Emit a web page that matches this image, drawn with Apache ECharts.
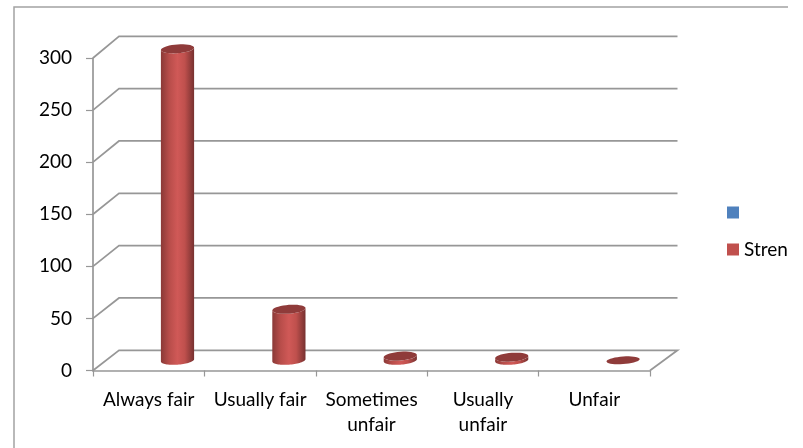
<!DOCTYPE html>
<html><head><meta charset="utf-8">
<style>html,body{margin:0;padding:0;background:#fff}#c{width:803px;height:448px}</style>
<script src="https://cdn.jsdelivr.net/npm/echarts@6/dist/echarts.min.js"></script>
</head><body><div id="c"></div>
<script>
const categories = ['Always fair','Usually fair','Sometimes\nunfair','Usually\nunfair','Unfair'];
const strengthValues = [299,49,4,3,0];
const yTicks = [0,50,100,150,200,250,300];
const legendNames = [' ','Stren'];

const FONT = 'Lato, "Open Sans", sans-serif';
const GRID = '#979797';
const DX = 27.5;                  // wall depth, horizontal
const BX = 28.8, BY = -10.2;      // cylinder offset from the front plane
const chart = echarts.init(document.getElementById('c'), null, {renderer:'canvas'});

function ell(cx, cy, rx, ry, from, to){
  const pts = [];
  for (let i = 0; i <= 36; i++){
    const t = from + (to - from) * i / 36;
    pts.push([cx + rx * Math.cos(t), cy + ry * Math.sin(t) - 0.07 * rx * Math.cos(t)]);
  }
  return pts;
}
function renderWall(params, api){
  const v = api.value(0);
  const a = api.coord([0, v]);
  const bw = api.size([1,0])[0];
  const x0 = a[0] - bw / 2, x1 = x0 + bw * categories.length, y = a[1];
  const dy = -20.2 - 1.5 * v / 300;
  const pts = [[x0, y],[x0 + DX - 1.5, y + dy],[x1 + DX, y + dy]];
  if (v === 0) pts.push([x1, y]);
  return {type:'polyline', shape:{points:pts}, style:{fill:null, stroke:GRID, lineWidth:1.7}, silent:true};
}
function renderBar(params, api){
  const i = api.value(0), v = api.value(1);
  const top = api.coord([i, v]), base = api.coord([i, 0]);
  const bw = api.size([1,0])[0];
  const cx = top[0] + BX, rx = bw * 0.149, ry = 4.4;
  const yb = base[1] + BY, yt = top[1] + BY;
  const fill = new echarts.graphic.LinearGradient(0,0,1,0,[
    {offset:0,color:'#8a3937'},{offset:0.25,color:'#b84d4a'},{offset:0.5,color:'#d05957'},
    {offset:0.72,color:'#bf504d'},{offset:1,color:'#773130'}]);
  const children = [];
  if (v > 0){
    const body = ell(cx, yb, rx, ry, 0, Math.PI).concat(ell(cx, yt, rx, ry, Math.PI, 0));
    children.push({type:'polygon', shape:{points:body}, style:{fill}});
  }
  children.push({type:'polygon', shape:{points:ell(cx, yt, rx, v > 0 ? ry : 3.8, 0, Math.PI * 2)}, style:{fill:'#8f3b3a'}});
  return {type:'group', children, silent:true};
}

chart.setOption({
  animation:false,
  backgroundColor:'#fff',
  textStyle:{fontFamily:FONT},
  grid:{left:93, right:153, top:58, bottom:77.5, containLabel:false},
  legend:{
    data:legendNames, orient:'vertical', left:727, top:203, itemWidth:12, itemHeight:12, itemGap:18,
    icon:'rect', selectedMode:false, padding:0,
    textStyle:{fontFamily:FONT, fontSize:19, color:'#000'}
  },
  xAxis:{
    type:'category', data:categories, boundaryGap:true,
    axisLine:{lineStyle:{color:GRID, width:1.7}},
    axisTick:{show:true, length:6, alignWithLabel:false, lineStyle:{color:GRID, width:1.2}},
    axisLabel:{interval:0, color:'#000', fontSize:19, margin:17, lineHeight:25, fontFamily:FONT},
    splitLine:{show:false}
  },
  yAxis:{
    type:'value', min:0, max:300, interval:50,
    axisLine:{show:true, lineStyle:{color:GRID, width:1.7}},
    axisTick:{show:true, length:7, lineStyle:{color:GRID, width:1.2}},
    axisLabel:{color:'#000', fontSize:19, margin:21, fontFamily:FONT},
    splitLine:{show:false}
  },
  graphic:[{type:'polyline', silent:true, z:0,
    shape:{points:[[14,448],[14,7],[788,7]]},
    style:{fill:null, stroke:'#a3a3a3', lineWidth:1.5}}],
  series:[
    {type:'custom', name:'wall', coordinateSystem:'cartesian2d', renderItem:renderWall,
     data:yTicks.map(v => [v]), encode:{y:0}, z:1, silent:true},
    {type:'custom', name:legendNames[0], coordinateSystem:'cartesian2d', renderItem:()=>null,
     data:[], itemStyle:{color:'#4f81bd'}, z:2},
    {type:'custom', name:legendNames[1], coordinateSystem:'cartesian2d', renderItem:renderBar,
     data:strengthValues.map((v,i) => [i,v]), encode:{x:0,y:1}, itemStyle:{color:'#c0504d'}, z:3}
  ]
});
</script></body></html>
